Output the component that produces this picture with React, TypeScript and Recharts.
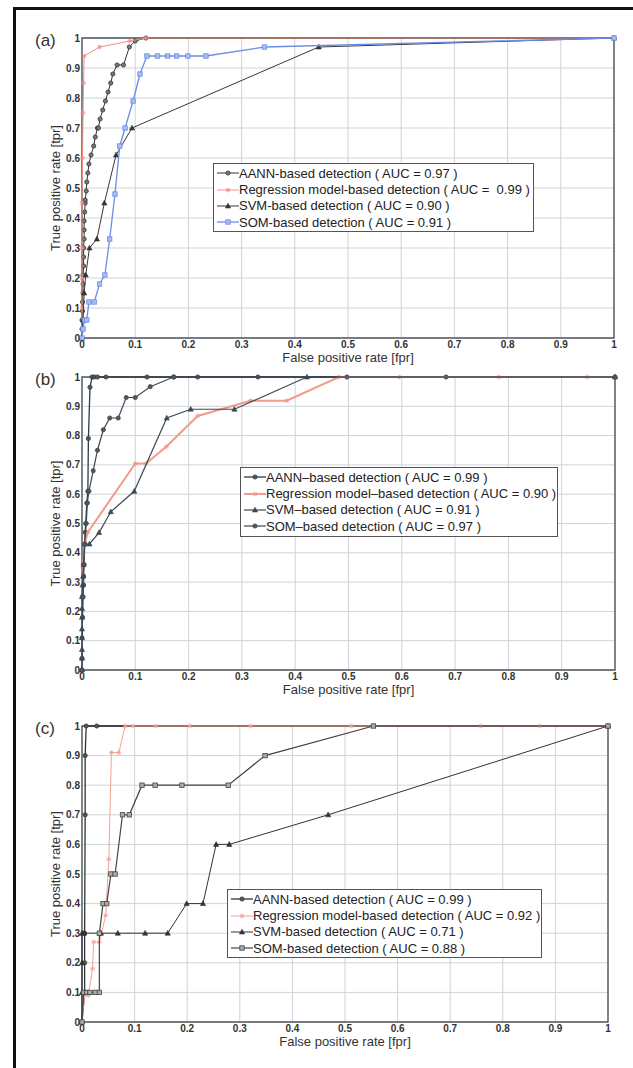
import React from "react";
import { ScatterChart, Scatter, XAxis, YAxis, CartesianGrid, ReferenceArea, Label } from "recharts";

const TICKS = [0, 0.1, 0.2, 0.3, 0.4, 0.5, 0.6, 0.7, 0.8, 0.9, 1];

type Pt = [number, number]; // [fpr, tpr]

// ---- panel (a)
const aAann: Pt[] = [
  [0, 0], [0, 0.03], [0, 0.06], [0.001, 0.09], [0.001, 0.12], [0.002, 0.15], [0.002, 0.18], [0.002, 0.21],
  [0.003, 0.24], [0.003, 0.27], [0.003, 0.3], [0.004, 0.33], [0.004, 0.36], [0.004, 0.39], [0.005, 0.42],
  [0.006, 0.45], [0.006, 0.46], [0.008, 0.49], [0.009, 0.52], [0.011, 0.55], [0.013, 0.58], [0.017, 0.61],
  [0.022, 0.64], [0.025, 0.67], [0.029, 0.7], [0.031, 0.7], [0.034, 0.73], [0.039, 0.76], [0.044, 0.79],
  [0.049, 0.82], [0.054, 0.85], [0.058, 0.88], [0.066, 0.91], [0.078, 0.91], [0.089, 0.97], [0.1, 0.99],
  [0.12, 1], [1, 1],
];
const aReg: Pt[] = [
  [0, 0], [0, 0.1], [0, 0.2], [0, 0.3], [0, 0.45], [0.001, 0.6], [0.002, 0.75], [0.003, 0.85], [0.004, 0.94],
  [0.033, 0.97], [0.09, 0.99], [0.12, 1], [1, 1],
];
const aSvm: Pt[] = [
  [0, 0], [0.002, 0.06], [0.004, 0.15], [0.007, 0.21], [0.014, 0.3], [0.028, 0.33], [0.042, 0.45],
  [0.064, 0.61], [0.094, 0.7], [0.445, 0.97], [1, 1],
];
const aSom: Pt[] = [
  [0, 0], [0.002, 0.03], [0.005, 0.06], [0.009, 0.06], [0.013, 0.12], [0.023, 0.12], [0.033, 0.18],
  [0.043, 0.21], [0.052, 0.33], [0.062, 0.48], [0.071, 0.64], [0.081, 0.7], [0.096, 0.79], [0.109, 0.88],
  [0.122, 0.94], [0.142, 0.94], [0.161, 0.94], [0.178, 0.94], [0.199, 0.94], [0.233, 0.94], [0.343, 0.97], [1, 1],
];

// ---- panel (b)
const bAann: Pt[] = [
  [0, 0], [0, 0.04], [0, 0.11], [0.001, 0.18], [0.002, 0.25], [0.003, 0.29], [0.003, 0.32], [0.004, 0.36],
  [0.005, 0.43], [0.006, 0.47], [0.007, 0.5], [0.009, 0.57], [0.011, 0.61], [0.012, 0.79], [0.015, 0.965],
  [0.019, 1], [0.023, 1], [0.029, 1], [0.045, 1], [0.122, 1], [0.172, 1], [0.217, 1], [0.33, 1], [0.497, 1],
  [0.683, 1], [1, 1],
];
const bReg: Pt[] = [
  [0, 0], [0, 0.25], [0.002, 0.36], [0.005, 0.43], [0.011, 0.47], [0.1, 0.705], [0.12, 0.705], [0.158, 0.762],
  [0.217, 0.867], [0.316, 0.919], [0.384, 0.919], [0.482, 1], [0.596, 1], [0.782, 1], [0.948, 1], [1, 1],
];
const bSvm: Pt[] = [
  [0, 0], [0, 0.04], [0, 0.07], [0, 0.11], [0, 0.14], [0, 0.18], [0, 0.21], [0, 0.25], [0.001, 0.29],
  [0.002, 0.32], [0.003, 0.36], [0.005, 0.43], [0.014, 0.43], [0.032, 0.469], [0.054, 0.54], [0.098, 0.61],
  [0.159, 0.86], [0.204, 0.89], [0.286, 0.89], [0.422, 1], [1, 1],
];
const bSom: Pt[] = [
  [0, 0], [0.001, 0.25], [0.003, 0.36], [0.005, 0.43], [0.008, 0.5], [0.01, 0.57], [0.013, 0.61], [0.021, 0.68],
  [0.029, 0.75], [0.04, 0.82], [0.052, 0.86], [0.068, 0.86], [0.083, 0.93], [0.1, 0.93], [0.128, 0.967],
  [0.172, 1], [1, 1],
];

// ---- panel (c)
const cAann: Pt[] = [
  [0, 0], [0.005, 0.1], [0.005, 0.2], [0.005, 0.3], [0.006, 0.7], [0.006, 0.9], [0.008, 1], [0.028, 1], [1, 1],
];
const cReg: Pt[] = [
  [0, 0], [0.005, 0.09], [0.012, 0.09], [0.02, 0.18], [0.022, 0.27], [0.033, 0.27], [0.045, 0.36], [0.051, 0.55],
  [0.056, 0.91], [0.07, 0.91], [0.082, 1], [0.097, 1], [0.14, 1], [0.205, 1], [0.32, 1], [0.512, 1], [0.758, 1],
  [0.87, 1], [1, 1],
];
const cSvm: Pt[] = [
  [0, 0], [0, 0.1], [0, 0.2], [0, 0.3], [0.004, 0.3], [0.036, 0.3], [0.068, 0.3], [0.12, 0.3], [0.163, 0.3],
  [0.199, 0.4], [0.23, 0.4], [0.255, 0.6], [0.28, 0.6], [0.468, 0.7], [1, 1],
];
const cSom: Pt[] = [
  [0, 0], [0.003, 0.1], [0.009, 0.1], [0.015, 0.1], [0.025, 0.1], [0.033, 0.1], [0.033, 0.3], [0.04, 0.4],
  [0.047, 0.4], [0.055, 0.5], [0.063, 0.5], [0.077, 0.7], [0.09, 0.7], [0.114, 0.8], [0.139, 0.8], [0.19, 0.8],
  [0.278, 0.8], [0.348, 0.9], [0.554, 1], [1, 1],
];

const LABELS_A = [
  "AANN-based detection ( AUC = 0.97 )",
  "Regression model-based detection ( AUC =  0.99 )",
  "SVM-based detection ( AUC = 0.90 )",
  "SOM-based detection ( AUC = 0.91 )",
];
const LABELS_B = [
  "AANN–based detection ( AUC = 0.99 )",
  "Regression model–based detection ( AUC = 0.90 )",
  "SVM–based detection ( AUC = 0.91 )",
  "SOM–based detection ( AUC = 0.97 )",
];
const LABELS_C = [
  "AANN-based detection ( AUC = 0.99 )",
  "Regression model-based detection ( AUC = 0.92 )",
  "SVM-based detection ( AUC = 0.71 )",
  "SOM-based detection ( AUC = 0.88 )",
];

type Kind = "circle" | "star" | "triangle" | "square";
interface Series {
  name: string;
  data: Pt[];
  color: string;
  width: number;
  kind: Kind;
  fill: string;
}

const FONT = "'Liberation Sans', Arial, Helvetica, sans-serif";
const SALMON = "#f2907f";

function Marker({ kind, cx, cy, stroke, fill }: { kind: Kind; cx?: number; cy?: number; stroke: string; fill: string }) {
  if (cx == null || cy == null) return null;
  if (kind === "circle") return <circle cx={cx} cy={cy} r={2.1} fill={fill} stroke={stroke} strokeWidth={0.8} />;
  if (kind === "square")
    return <rect x={cx - 2.2} y={cy - 2.2} width={4.4} height={4.4} fill={fill} stroke={stroke} strokeWidth={0.8} />;
  if (kind === "triangle")
    return (
      <polygon
        points={`${cx},${cy - 2.8} ${cx - 2.6},${cy + 2} ${cx + 2.6},${cy + 2}`}
        fill={fill}
        stroke={stroke}
        strokeWidth={0.6}
      />
    );
  const s = 2.4;
  return (
    <g stroke={stroke} strokeWidth={0.9}>
      <line x1={cx - s} y1={cy} x2={cx + s} y2={cy} />
      <line x1={cx} y1={cy - s} x2={cx} y2={cy + s} />
      <line x1={cx - s * 0.7} y1={cy - s * 0.7} x2={cx + s * 0.7} y2={cy + s * 0.7} />
      <line x1={cx - s * 0.7} y1={cy + s * 0.7} x2={cx + s * 0.7} y2={cy - s * 0.7} />
    </g>
  );
}

function makeSeries(labels: string[], data: Pt[][], styles: Omit<Series, "name" | "data">[]): Series[] {
  return labels.map((name, i) => ({ name, data: data[i], ...styles[i] }));
}

const seriesA = makeSeries(LABELS_A, [aAann, aReg, aSvm, aSom], [
  { color: "#333333", width: 1, kind: "circle", fill: "#777" },
  { color: SALMON, width: 1, kind: "star", fill: SALMON },
  { color: "#383838", width: 1, kind: "triangle", fill: "#333" },
  { color: "#6b8de6", width: 1.3, kind: "square", fill: "#a9bdf0" },
]);
const seriesB = makeSeries(LABELS_B, [bAann, bReg, bSvm, bSom], [
  { color: "#2f3a44", width: 1.3, kind: "circle", fill: "#555" },
  { color: "#f39a8d", width: 2, kind: "star", fill: "#f39a8d" },
  { color: "#3a4955", width: 1.2, kind: "triangle", fill: "#3a4955" },
  { color: "#3a4955", width: 1.2, kind: "circle", fill: "#555" },
]);
const seriesC = makeSeries(LABELS_C, [cAann, cReg, cSvm, cSom], [
  { color: "#333333", width: 1.3, kind: "circle", fill: "#555" },
  { color: "#f4a192", width: 1, kind: "star", fill: "#f4a192" },
  { color: "#333333", width: 1, kind: "triangle", fill: "#333" },
  { color: "#444444", width: 1.2, kind: "square", fill: "#aaa" },
]);

interface PanelProps {
  tag: string;
  top: number;
  plotW: number;
  plotH: number;
  series: Series[];
  legend: { left: number; top: number; width: number; height: number };
}

const Y_AXIS_W = 82;
const X_AXIS_H = 32;
const M_TOP = 12;

function RocPanel({ tag, top, plotW, plotH, series, legend }: PanelProps) {
  const width = Y_AXIS_W + plotW + 12;
  const height = M_TOP + plotH + X_AXIS_H;
  const tickStyle = { fontSize: 10, fill: "#333", fontWeight: 700, fontFamily: FONT };
  return (
    <>
      <div style={{ position: "absolute", left: 0, top: top - M_TOP, width, height }}>
        <ScatterChart width={width} height={height} margin={{ top: M_TOP, right: 12, bottom: 0, left: 0 }}>
          <CartesianGrid stroke="#cfd3d7" strokeWidth={1} />
          <XAxis
            type="number"
            dataKey="x"
            domain={[0, 1]}
            ticks={TICKS}
            interval={0}
            tickSize={0}
            tickMargin={3}
            axisLine={false}
            tick={tickStyle}
            height={X_AXIS_H}
          >
            <Label
              value="False positive rate [fpr]"
              position="insideBottom"
              offset={8}
              style={{ fontSize: 13, fill: "#333", fontFamily: FONT }}
            />
          </XAxis>
          <YAxis
            type="number"
            dataKey="y"
            domain={[0, 1]}
            ticks={TICKS}
            interval={0}
            tickSize={0}
            tickMargin={2}
            axisLine={false}
            tick={tickStyle}
            width={Y_AXIS_W}
          >
            <Label
              value="True positive rate [tpr]"
              angle={-90}
              position="insideLeft"
              offset={55}
              style={{ fontSize: 13, fill: "#333", fontFamily: FONT, textAnchor: "middle" }}
            />
          </YAxis>
          <ReferenceArea x1={0} x2={1} y1={0} y2={1} fill="none" stroke="#4f5964" strokeWidth={1.4} ifOverflow="visible" />
          {series.map((s) => (
            <Scatter
              key={s.name}
              name={s.name}
              data={s.data.map(([x, y]) => ({ x, y }))}
              line={{ stroke: s.color, strokeWidth: s.width }}
              lineType="joint"
              fill={s.fill}
              shape={(p: any) => <Marker kind={s.kind} cx={p.cx} cy={p.cy} stroke={s.color} fill={s.fill} />}
              isAnimationActive={false}
            />
          ))}
        </ScatterChart>
      </div>
      <div
        style={{
          position: "absolute",
          left: 35,
          top: top - 7,
          fontFamily: FONT,
          fontSize: 17,
          lineHeight: "20px",
          color: "#333",
        }}
      >
        {tag}
      </div>
      <div
        style={{
          position: "absolute",
          left: legend.left,
          top: legend.top,
          width: legend.width,
          height: legend.height,
          boxSizing: "border-box",
          border: "1.5px solid #555",
          background: "#fff",
          padding: "1px 0 0 3px",
        }}
      >
        {series.map((s) => (
          <div key={s.name} style={{ display: "flex", alignItems: "center", height: 16.4 }}>
            <svg width={22} height={14} style={{ flex: "none" }}>
              <line x1={0} y1={7} x2={22} y2={7} stroke={s.color} strokeWidth={s.width} />
              <Marker kind={s.kind} cx={11} cy={7} stroke={s.color} fill={s.fill} />
            </svg>
            <span
              style={{
                fontFamily: FONT,
                fontSize: 13,
                color: "#222",
                whiteSpace: "pre",
                lineHeight: "15px",
              }}
            >
              {s.name}
            </span>
          </div>
        ))}
      </div>
    </>
  );
}

export default function App() {
  return (
    <div
      style={{
        position: "absolute",
        left: 0,
        top: 0,
        width: 633,
        height: 1068,
        background: "#fff",
        overflow: "hidden",
      }}
    >
      <div
        style={{
          position: "absolute",
          left: 13,
          top: 7,
          width: 640,
          height: 1080,
          borderLeft: "3px solid #111",
          borderTop: "3px solid #111",
        }}
      />
      <RocPanel tag="(a)" top={38} plotW={532} plotH={300} series={seriesA} legend={{ left: 213, top: 163, width: 321, height: 69 }} />
      <RocPanel tag="(b)" top={377} plotW={533} plotH={293} series={seriesB} legend={{ left: 240, top: 467, width: 318, height: 70 }} />
      <RocPanel tag="(c)" top={726} plotW={526} plotH={296} series={seriesC} legend={{ left: 227, top: 889, width: 315, height: 69 }} />
    </div>
  );
}
